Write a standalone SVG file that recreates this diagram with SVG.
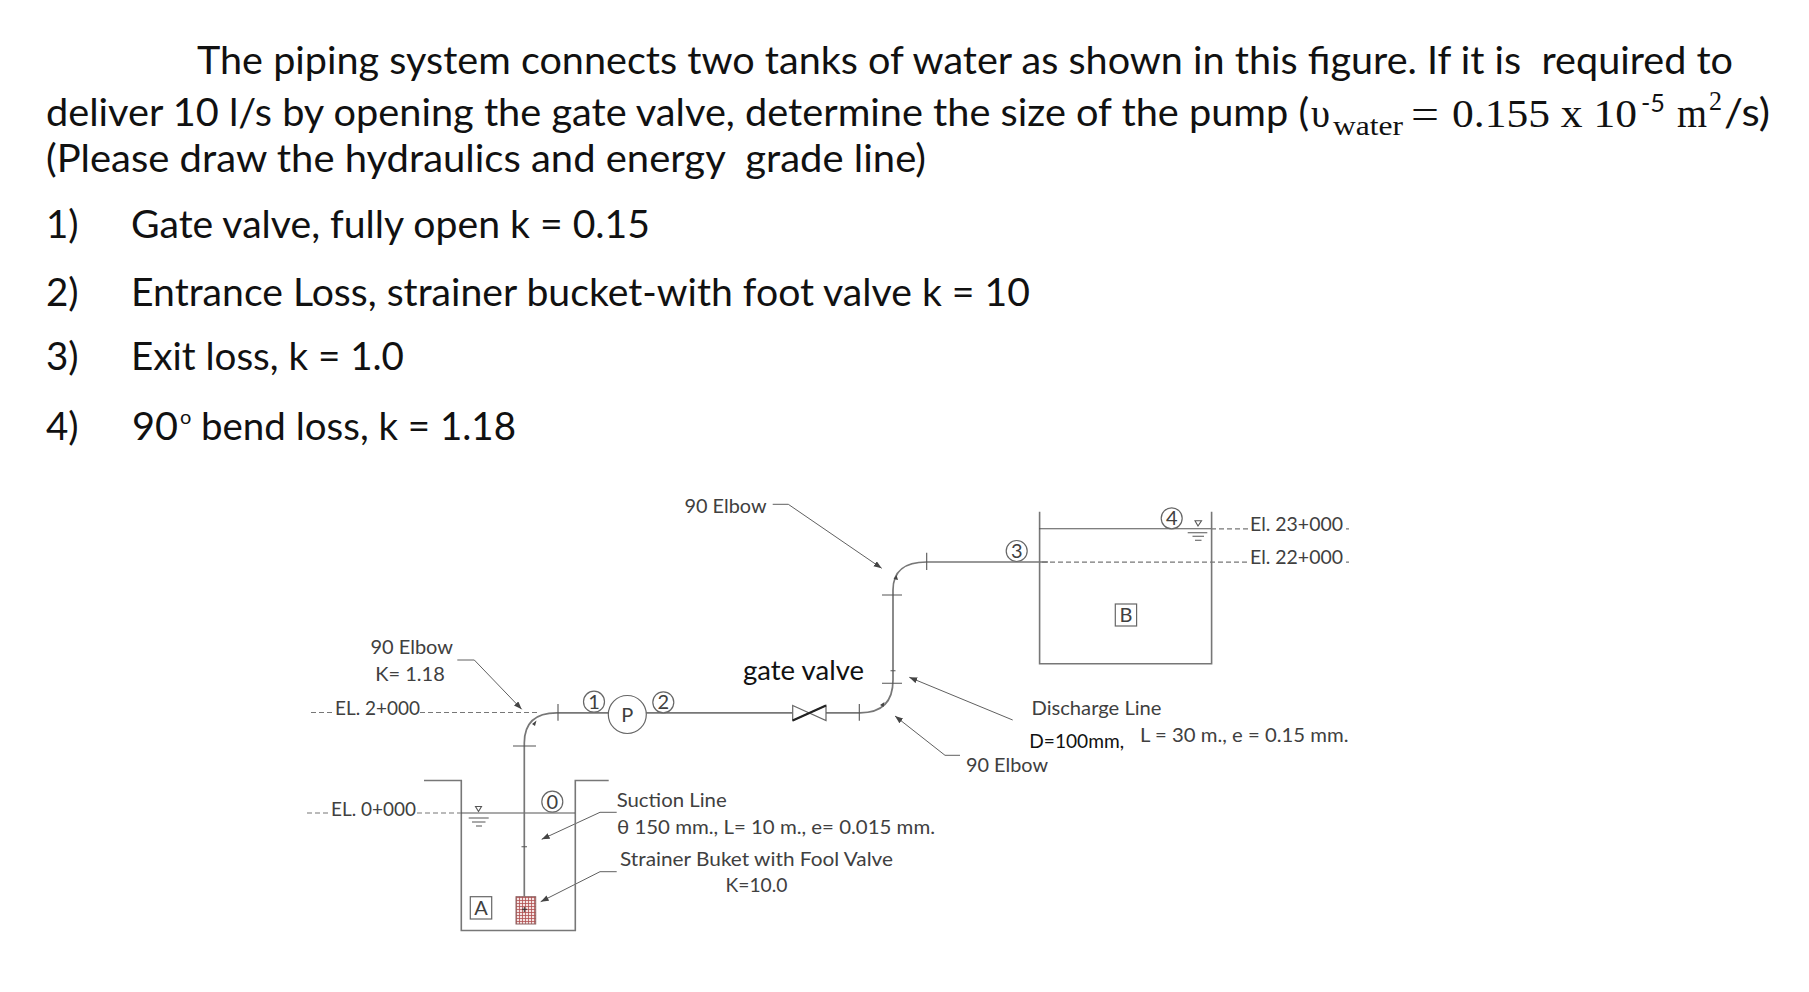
<svg xmlns="http://www.w3.org/2000/svg" width="1809" height="992" viewBox="0 0 1809 992">
<style>
text{font-family:Lato,"Open Sans","Liberation Sans",sans-serif;white-space:pre}
.h{font-size:38.5px;fill:#111}
.m{font-family:"Liberation Serif","DejaVu Serif",serif;fill:#111}
.d{font-size:20px;fill:#404040}
.k{fill:#111}
.c{font-size:20px;fill:#404040;text-anchor:middle}
.l{fill:none;stroke:#606060;stroke-width:1.2}
.w{fill:none;stroke:#777;stroke-width:1.6}
.p{fill:none;stroke:#777;stroke-width:1.7}
.t{fill:none;stroke:#555;stroke-width:1.1}
.da{fill:none;stroke:#777;stroke-width:1.2;stroke-dasharray:5 3}
.n{fill:#fff;stroke:#666;stroke-width:1.2}
.lead{fill:none;stroke:#606060;stroke-width:1;marker-end:url(#ah)}
</style>
<defs>
<marker id="ah" markerWidth="10" markerHeight="8" refX="8" refY="3" orient="auto" markerUnits="userSpaceOnUse"><path d="M0 0L8 3L0 6Z" fill="#444"/></marker>
<pattern id="grid" width="3" height="3" patternUnits="userSpaceOnUse"><rect width="3" height="3" fill="#f4e4e4"/><path d="M0 .5H3M.5 0V3" stroke="#b05050" stroke-width=".8"/></pattern>
</defs>
<rect width="1809" height="992" fill="#fff"/>
<g id="problem-text">
<text class="h" x="197" y="73.5" textLength="1536" lengthAdjust="spacingAndGlyphs">The piping system connects two tanks of water as shown in this figure. If it is  required to</text>
<text class="h" x="46" y="126" textLength="1263" lengthAdjust="spacingAndGlyphs">deliver 10 l/s by opening the gate valve, determine the size of the pump (</text>
<text class="m" x="1311" y="127" font-size="40" textLength="19" lengthAdjust="spacingAndGlyphs">υ</text>
<text class="m" x="1333" y="135" font-size="28" textLength="70" lengthAdjust="spacingAndGlyphs">water</text>
<text class="m" x="1411" y="128" font-size="42" textLength="28" lengthAdjust="spacingAndGlyphs">=</text>
<text class="m" x="1452" y="127" font-size="40" textLength="185" lengthAdjust="spacingAndGlyphs">0.155 x 10</text>
<text class="h" x="1641" y="112" style="font-size:25px" textLength="24" lengthAdjust="spacingAndGlyphs">-5</text>
<text class="m" x="1677" y="127" font-size="40" textLength="30" lengthAdjust="spacingAndGlyphs">m</text>
<text class="m" x="1709" y="110" font-size="27" textLength="13" lengthAdjust="spacingAndGlyphs">2</text>
<text class="h" x="1724" y="126" textLength="46" lengthAdjust="spacingAndGlyphs">/s)</text>
<text class="h" x="46" y="171.5" textLength="880" lengthAdjust="spacingAndGlyphs">(Please draw the hydraulics and energy  grade line)</text>
<text class="h" x="46" y="238">1)</text>
<text class="h" x="131" y="238" textLength="519" lengthAdjust="spacingAndGlyphs">Gate valve, fully open k = 0.15</text>
<text class="h" x="46" y="306">2)</text>
<text class="h" x="131" y="306" textLength="899" lengthAdjust="spacingAndGlyphs">Entrance Loss, strainer bucket-with foot valve k = 10</text>
<text class="h" x="46" y="370">3)</text>
<text class="h" x="131" y="370" textLength="273" lengthAdjust="spacingAndGlyphs">Exit loss, k = 1.0</text>
<text class="h" x="46" y="440">4)</text>
<text class="h" x="132" y="440" textLength="46" lengthAdjust="spacingAndGlyphs">90</text>
<text class="h" x="180" y="424" style="font-size:20px">o</text>
<text class="h" x="201" y="440" textLength="315" lengthAdjust="spacingAndGlyphs">bend loss, k = 1.18</text>
</g>
<g id="connectors">
<path class="lead" d="M457.3 660H474.3L521.7 709.3"/>
<path class="lead" d="M616.7 812.3H600L541.7 839.3"/>
<path class="lead" d="M616.7 871.7H600L540.7 901.7"/>
<path class="lead" d="M772.7 504.3H788.3L881.7 568.3"/>
<path class="lead" d="M1012.7 720L909.3 677.3"/>
<path class="lead" d="M960 755.3H945L895 716"/>
</g>
<g id="elevations">
<path class="da" d="M311 712.5H333M420 712.5H540"/>
<path class="da" d="M307 813H329M417 813H462"/>
<path class="da" d="M1211 528.8H1250M1346 528.8H1349"/>
<path class="da" d="M1042 562.2H1250M1346 562.2H1349"/>
<text class="d" x="335" y="715" textLength="85" lengthAdjust="spacingAndGlyphs">EL. 2+000</text>
<text class="d" x="331" y="816" textLength="85" lengthAdjust="spacingAndGlyphs">EL. 0+000</text>
<text class="d" x="1250" y="531" textLength="93" lengthAdjust="spacingAndGlyphs">El. 23+000</text>
<text class="d" x="1250" y="563.7" textLength="93" lengthAdjust="spacingAndGlyphs">El. 22+000</text>
</g>
<g id="tank-a">
<path class="w" d="M424 780.5H461.3V930.5H575.3V780.5H608.7"/>
<path class="t" d="M461 813H575"/>
<path class="t" d="M475.5 806.5H481.5L478.5 811.5Z"/>
<path class="t" d="M468.7 818H488.7M472 822H485.5M476 826H482"/>
<rect class="n" x="470.3" y="896.7" width="21.4" height="22.3"/>
<text class="c" x="481" y="915">A</text>
</g>
<g id="tank-b">
<path class="w" d="M1039.6 511.7V663.8H1211.6V511.7"/>
<path class="t" d="M1039 528.8H1211"/>
<path class="t" d="M1195 520.7H1201.5L1198 526Z"/>
<path class="t" d="M1187.7 532.8H1207.3M1192.5 536.2H1204M1195 540.2H1201.5"/>
<rect class="n" x="1115.3" y="604" width="21.3" height="22"/>
<text class="c" x="1126" y="622">B</text>
</g>
<g id="pipe">
<path class="p" d="M524.3 896.7V743Q524.3 712.8 556.7 712.8H608"/>
<path class="p" d="M646 712.8H792.7M826 712.8H860Q893 712.8 893 680V590Q893 562 926.7 562H1048"/>
<path class="t" d="M513 746H536M558 704V720.7M521.5 846.7H527M859.3 704V720.7M882 683.3H902M882 595H902M926.7 552.7V570M890.5 670.7H895.5"/>
<path d="M532 724L536.5 720.5L535 726Z M893.5 579L896.5 575L898 580Z M880 705L884.5 702L883.5 707Z" fill="#444"/>
</g>
<g id="strainer">
<rect x="516" y="896.7" width="19.7" height="27.3" fill="url(#grid)" stroke="#8a6060"/>
<path d="M522 909.3H527M524.3 907V912" stroke="#333"/>
</g>
<g id="pump">
<circle class="n" cx="627.3" cy="714.5" r="19"/>
<text class="c" x="627.3" y="722">P</text>
</g>
<g id="gate-valve">
<path d="M792.7 705.5L826 720.5V705.5L792.7 720.5Z" fill="#fff" stroke="#666" stroke-width="1.2"/>
<path d="M792.7 720.5L826 705.5" stroke="#222" stroke-width="2.2"/>
</g>
<g id="point-0"><circle class="n" cx="552.3" cy="801.7" r="10.5"/><text class="c" x="552.3" y="808.5">0</text></g>
<g id="point-1"><circle class="n" cx="594" cy="701.7" r="10.5"/><text class="c" x="594" y="708.5">1</text></g>
<g id="point-2"><circle class="n" cx="663.3" cy="702.3" r="10.5"/><text class="c" x="663.3" y="709">2</text></g>
<g id="point-3"><circle class="n" cx="1016.7" cy="551" r="10.5"/><text class="c" x="1016.7" y="558">3</text></g>
<g id="point-4"><circle class="n" cx="1171.7" cy="518.3" r="10.5"/><text class="c" x="1171.7" y="525">4</text></g>
<g id="labels">
<text class="c" x="411.7" y="654">90 Elbow</text>
<text class="c" x="410" y="681">K= 1.18</text>
<text class="d" x="684.5" y="512.5" textLength="82" lengthAdjust="spacingAndGlyphs">90 Elbow</text>
<text class="d" x="966" y="771.5" textLength="82" lengthAdjust="spacingAndGlyphs">90 Elbow</text>
<text class="k" x="743" y="680" font-size="27" textLength="121" lengthAdjust="spacingAndGlyphs">gate valve</text>
<text class="d" x="1031.5" y="714.5" textLength="130" lengthAdjust="spacingAndGlyphs">Discharge Line</text>
<text class="k" x="1029.3" y="747.5" font-size="20" textLength="94.7" lengthAdjust="spacingAndGlyphs">D=100mm,</text>
<text class="d" x="1140" y="741.5" textLength="208.5" lengthAdjust="spacingAndGlyphs">L = 30 m., e = 0.15 mm.</text>
<text class="d" x="616.7" y="807" textLength="110" lengthAdjust="spacingAndGlyphs">Suction Line</text>
<text class="d" x="617" y="834" textLength="318" lengthAdjust="spacingAndGlyphs">θ 150 mm., L= 10 m., e= 0.015 mm.</text>
<text class="d" x="620" y="866" textLength="273" lengthAdjust="spacingAndGlyphs">Strainer Buket with Fool Valve</text>
<text class="d" x="725.5" y="892" textLength="62" lengthAdjust="spacingAndGlyphs">K=10.0</text>
</g>
</svg>
